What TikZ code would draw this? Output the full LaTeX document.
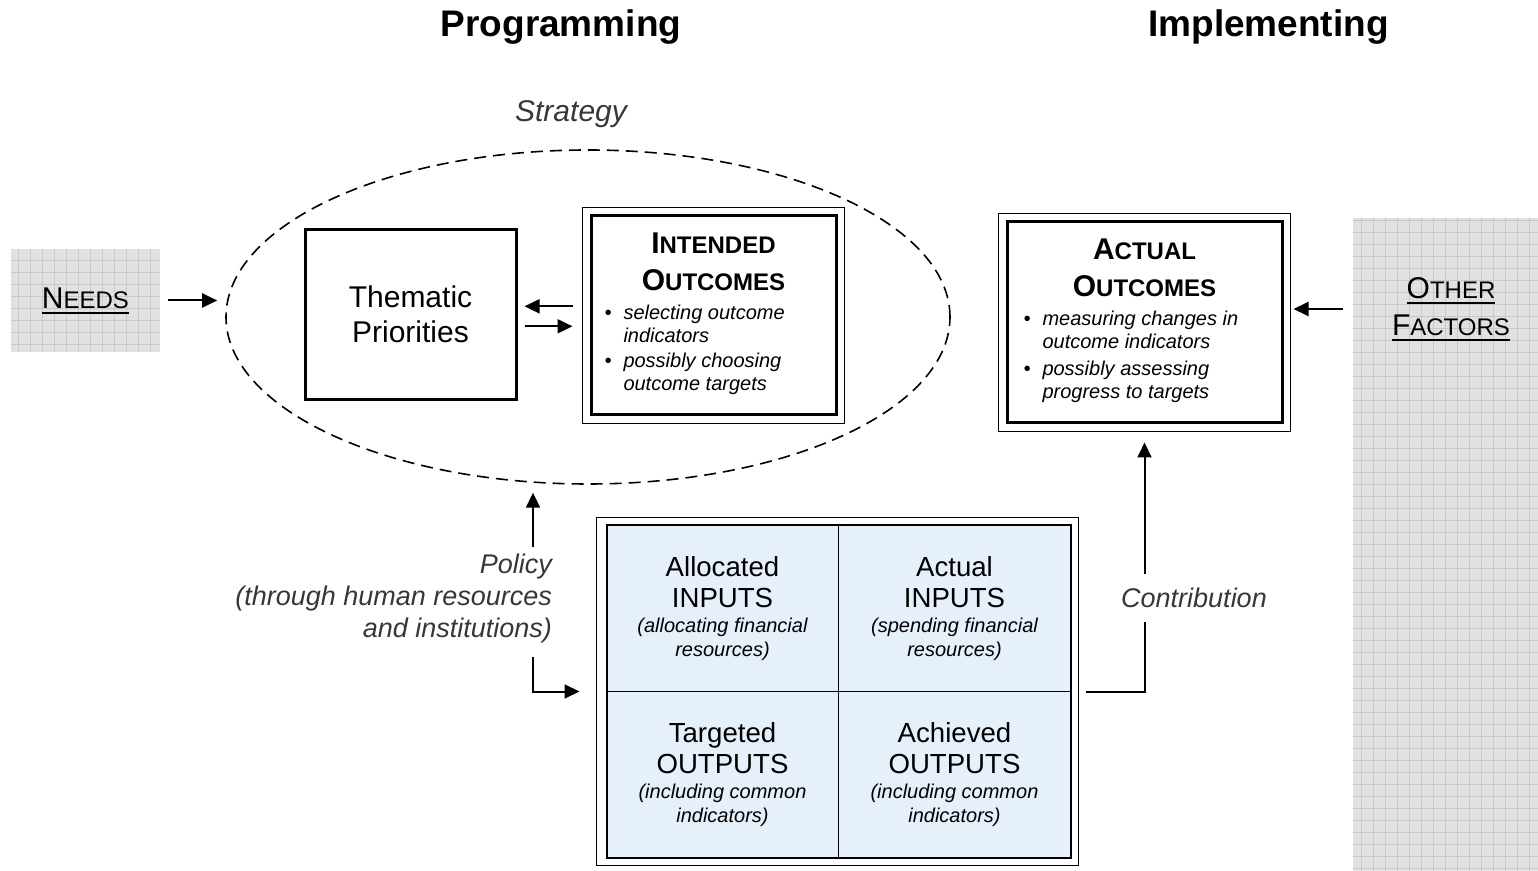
\documentclass[tikz,border=0pt]{standalone}
\usepackage{fontspec}
\setmainfont{Liberation Sans}
\usetikzlibrary{arrows.meta, positioning, calc, shapes.geometric}

\definecolor{cellblue}{RGB}{230,240,250}
\definecolor{gridfill}{RGB}{225,225,225}
\definecolor{gridline}{RGB}{200,200,200}
\definecolor{softtext}{RGB}{55,55,55}

% 假小型大写(首字母大号)
\newcommand{\fakesc}[2]{{\fontsize{15}{18.5}\selectfont #1}{\fontsize{12}{18.5}\selectfont #2}}
% 粗下划线
\newcommand{\thickul}[1]{\setbox0=\hbox{#1}\rlap{\rule[-2.8pt]{\wd0}{0.9pt}}\box0}
% 格子里的斜体小字
\newcommand{\subtxt}[1]{{\itshape\fontsize{10}{12}\selectfont #1}}

\begin{document}
\begin{tikzpicture}[
    x=0.5pt, y=-0.5pt, % 按像素坐标
    every node/.style={font=\fontsize{12}{14}\selectfont},
    arr/.style={line width=1pt, -{Triangle[length=7.5pt, width=7pt]}}, % 实心箭头
    greybox/.style={fill=gridfill, inner sep=0pt, path picture={
        \draw[gridline, step=6pt, line width=0.4pt] (path picture bounding box.south west) grid (path picture bounding box.north east);}}, % 灰色网格块
    plainbox/.style={draw, line width=1.5pt, align=center, font=\fontsize{15}{17.5}\selectfont},
    outbox/.style={draw, line width=1.5pt, align=center, inner sep=0pt, font=\bfseries\fontsize{12}{18.5}\selectfont}, % 双框(内框)
    cell/.style={draw, line width=0.9pt, fill=cellblue, minimum width=116pt, minimum height=83pt,
        outer sep=0pt, align=center, font=\fontsize{13.8}{15.5}\selectfont}, % 矩阵格子
    note/.style={font=\itshape\fontsize{13.5}{16}\selectfont, text=softtext} % 斜体说明
]
    \useasboundingbox (0,0) rectangle (1538,871);

    % 1. 标题
    \node[font=\bfseries\fontsize{18.5}{22}\selectfont] (prog) at (561,27) {Programming};
    \node[font=\bfseries\fontsize{18.5}{22}\selectfont] (impl) at (1268.5,27) {Implementing};

    % 2. 策略椭圆
    \node[ellipse, draw, line width=0.8pt, dash pattern=on 6pt off 3.5pt,
        minimum width=362pt, minimum height=167pt, inner sep=0pt] (strat) at (588,317) {};
    \node[note, font=\itshape\fontsize{15}{18}\selectfont] (stratlabel) at (571,114) {Strategy};

    % 3. 左侧需求与主题
    \node[greybox, minimum width=74.5pt, minimum height=51.5pt] (needs) at (85.5,300.5) {\thickul{\fakesc{N}{EEDS}}};
    \node[plainbox, minimum width=105.5pt, minimum height=85pt] (thematic) at (410.5,314.3) {Thematic\\Priorities};

    \node[outbox, minimum width=122.5pt, minimum height=99.5pt] (intended) at (713.5,315.5)
        {\fakesc{I}{NTENDED}\\\fakesc{O}{UTCOMES}\\[-4pt]%
        \makebox[109pt][l]{\mdseries\itshape\fontsize{10}{11.5}\selectfont
        \begin{tabular}[t]{@{}l@{\hspace{6pt}}l@{}}
            \textbullet & selecting outcome\\ & indicators\\[1pt]
            \textbullet & possibly choosing\\ & outcome targets
        \end{tabular}}};
    \draw[line width=0.9pt] ([shift={(-3.5pt,3.5pt)}]intended.north west) rectangle ([shift={(3.5pt,-3.5pt)}]intended.south east);

    % 4. 实际结果与其他因素
    \node[outbox, minimum width=137.5pt, minimum height=100.5pt] (actual) at (1144.5,322.5)
        {\fakesc{A}{CTUAL}\\\fakesc{O}{UTCOMES}\\[-4pt]%
        \makebox[121pt][l]{\mdseries\itshape\fontsize{10}{11.5}\selectfont
        \begin{tabular}[t]{@{}l@{\hspace{6pt}}l@{}}
            \textbullet & measuring changes in\\ & outcome indicators\\[2pt]
            \textbullet & possibly assessing\\ & progress to targets
        \end{tabular}}};
    \draw[line width=0.9pt] ([shift={(-3.5pt,3.5pt)}]actual.north west) rectangle ([shift={(3.5pt,-3.5pt)}]actual.south east);

    \node[greybox, minimum width=92.5pt, minimum height=326.5pt] (otherbg) at (1445.5,544.5) {};
    \node[font=\fontsize{12}{18.5}\selectfont, align=center] (other) at (1451,309)
        {\thickul{\fakesc{O}{THER}}\\\thickul{\fakesc{F}{ACTORS}}};

    % 5. 投入/产出矩阵
    \node[cell] (alloc) at (722.5,608.5) {Allocated\\INPUTS\\[-3.3pt]\subtxt{(allocating financial}\\[-3.5pt]\subtxt{resources)}};
    \node[cell, right=0pt of alloc] (actin) {Actual\\INPUTS\\[-3.3pt]\subtxt{(spending financial}\\[-3.5pt]\subtxt{resources)}};
    \node[cell, below=0pt of alloc] (target) {Targeted\\OUTPUTS\\[-3.3pt]\subtxt{(including common}\\[-3.5pt]\subtxt{indicators)}};
    \node[cell, right=0pt of target] (achieve) {Achieved\\OUTPUTS\\[-3.3pt]\subtxt{(including common}\\[-3.5pt]\subtxt{indicators)}};
    \draw[line width=1pt] (alloc.north west) rectangle (achieve.south east);
    \draw[line width=0.8pt] ([shift={(-5pt,4pt)}]alloc.north west) rectangle ([shift={(4pt,-4pt)}]achieve.south east);

    % 6. 连线
    \draw[arr, shorten <=4pt, shorten >=4pt] (needs.east) -- (needs.east -| strat.west);
    \draw[arr, shorten <=8.5pt, shorten >=3.5pt] ([yshift=4pt]thematic.east -| intended.west) -- ([yshift=4pt]thematic.east);
    \draw[arr, shorten <=3.5pt, shorten >=8.5pt] ([yshift=-6pt]thematic.east) -- ([yshift=-6pt]thematic.east -| intended.west);
    \draw[arr, shorten <=5pt, shorten >=5pt] (other -| otherbg.west) -- (other -| actual.east);

    % 政策箭头
    \node[note, align=right, anchor=east] (policy) at (559,598.5) {Policy\\(through human resources\\and institutions)};
    \draw[arr, shorten >=5pt] ([xshift=-13pt]policy.north east) -- ([xshift=-13pt]policy.north east |- strat.251.6);
    \draw[arr, shorten <=3.5pt, shorten >=13.5pt] ([xshift=-13pt]policy.south east) |- (alloc.south west);

    % 贡献箭头
    \draw[arr, shorten <=7.5pt, shorten >=9pt] (actin.south east) -| (actual.south);
    \node[note, fill=white, inner ysep=7pt] (contrib) at (1194,598) {Contribution};

\end{tikzpicture}
\end{document}
